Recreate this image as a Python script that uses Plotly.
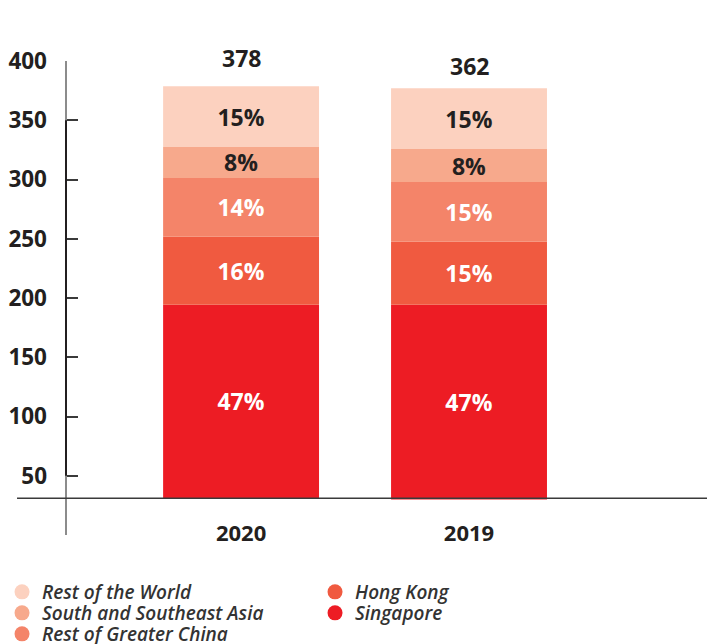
import numpy as np
import plotly.graph_objects as go

# ---- data ----
years = ["2020", "2019"]
totals = ["378", "362"]
bar_base = [31, 30]
regions = ["Singapore", "Hong Kong", "Rest of Greater China",
           "South and Southeast Asia", "Rest of the World"]
singapore = [163.4, 164.4]
hong_kong = [57.2, 53.0]
rest_greater_china = [49.7, 50.5]
south_se_asia = [26.1, 27.8]
rest_world = [51.3, 51.3]
pct_singapore = ["47%", "47%"]
pct_hong_kong = ["16%", "15%"]
pct_rest_greater_china = ["14%", "15%"]
pct_south_se_asia = ["8%", "8%"]
pct_rest_world = ["15%", "15%"]
y_ticks = [50, 100, 150, 200, 250, 300, 350, 400]

values = [singapore, hong_kong, rest_greater_china, south_se_asia, rest_world]
pcts = [pct_singapore, pct_hong_kong, pct_rest_greater_china, pct_south_se_asia, pct_rest_world]
colors = ["#ed1c24", "#f05a40", "#f48469", "#f7a98c", "#fcd1bf"]
text_colors = ["white", "white", "white", "#231f20", "#231f20"]

DARK = "#231f20"
FONT = "Open Sans"

fig = go.Figure()
base = np.array(bar_base, dtype=float)
for name, vals, pc, col, tcol in zip(regions, values, pcts, colors, text_colors):
    fig.add_trace(go.Bar(
        x=years, y=vals, base=base.copy(), name=name,
        marker=dict(color=col, line=dict(width=0)),
        width=0.684, text=pc, textposition="inside", insidetextanchor="middle",
        textangle=0, constraintext="none",
        textfont=dict(family=FONT, size=23, color=tcol, weight=700),
        showlegend=False, hoverinfo="skip",
    ))
    base = base + np.array(vals)
tops = base

# legend entries: one small legend per entry (two columns, three rows)
legend_slots = {
    "Rest of the World": ("legend", -0.0998, -0.1203),
    "Hong Kong": ("legend2", 0.3885, -0.1203),
    "South and Southeast Asia": ("legend3", -0.0998, -0.1646),
    "Singapore": ("legend4", 0.3885, -0.1646),
    "Rest of Greater China": ("legend5", -0.0998, -0.2089),
}
legend_font = dict(family=FONT, size=19, color="#333333", style="italic", weight=600)
for name, col in zip(regions, colors):
    lg, lx, ly = legend_slots[name]
    fig.add_trace(go.Scatter(
        x=[None], y=[None], mode="markers", name=name,
        marker=dict(symbol="circle", size=15, color=col),
        legend=lg, showlegend=True,
    ))
    fig.update_layout({lg: dict(x=lx, xanchor="left", y=ly, yanchor="middle",
                                font=legend_font, bgcolor="rgba(0,0,0,0)",
                                itemclick=False, itemdoubleclick=False)})

shifts = [10, 4]
for i, (t, tp, sh) in enumerate(zip(totals, tops, shifts)):
    fig.add_annotation(x=i, y=float(tp), xref="x", yref="y", text=t, showarrow=False,
                       yanchor="bottom", yshift=sh,
                       font=dict(family=FONT, size=23, color=DARK, weight=700))

fig.update_layout(
    width=707, height=644,
    margin=dict(l=66, r=0, t=61, b=109, autoexpand=False),
    paper_bgcolor="white", plot_bgcolor="white",
    barmode="overlay",
    xaxis=dict(type="category", categoryorder="array", categoryarray=years,
               range=[-0.768, 2.044], showline=False, showgrid=False, zeroline=False,
               ticks="", anchor="free", position=0.035, automargin=False,
               tickfont=dict(family=FONT, size=22, color=DARK, weight=700)),
    yaxis=dict(range=[0, 400], tickvals=y_ticks, showgrid=False, zeroline=False,
               showline=False, ticks="inside", ticklen=12, tickwidth=1.5,
               tickcolor="#3a3a3a", ticklabelstandoff=18, automargin=False,
               tickfont=dict(family=FONT, size=22.5, color=DARK, weight=700)),
    shapes=[
        dict(type="line", xref="paper", yref="paper", x0=0, x1=0, y0=0, y1=1,
             line=dict(color="#8c8c8c", width=2), layer="above"),
        dict(type="line", xref="paper", yref="y", x0=0, x1=0, y0=50, y1=350,
             line=dict(color=DARK, width=2), layer="above"),
        dict(type="line", xref="paper", yref="y", x0=-0.0764, x1=1, y0=31, y1=31,
             line=dict(color="#3a3a3a", width=1.5), layer="above"),
    ],
)

fig.write_html("out.html", config={"displayModeBar": False},
               post_script="document.body.style.margin='0';document.body.style.padding='0';")
